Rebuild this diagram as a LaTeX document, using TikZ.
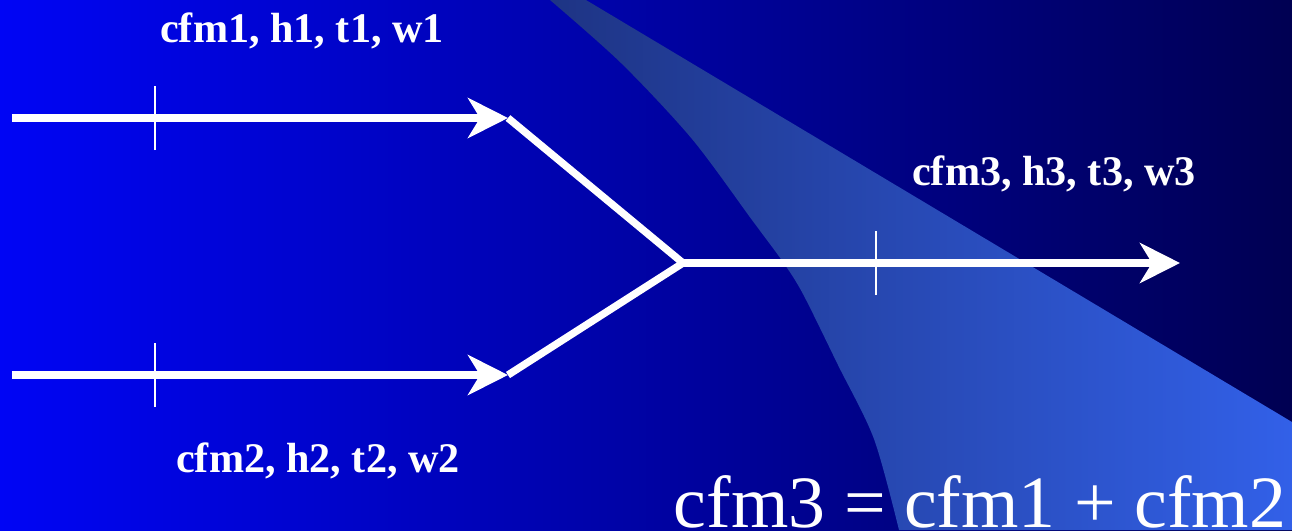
\documentclass[tikz,border=0pt]{standalone}
\usepackage{fontspec}
\setmainfont{Liberation Serif}
\usetikzlibrary{arrows.meta}
\definecolor{bgleft}{RGB}{0,5,245}
\definecolor{bgmid}{RGB}{0,0,178}
\definecolor{bgright}{RGB}{0,0,82}
\definecolor{keilleft}{RGB}{30,52,132}
\definecolor{keilright}{RGB}{50,96,232}

\tikzset{
    strom/.style={white, line width=2.1pt},
    pfeil/.style={strom, -{Stealth[length=4mm, width=4mm, inset=1.2mm]}},
    strich/.style={white, line width=0.8pt},
    zustand/.style={white, font=\fontsize{12}{14}\selectfont\bfseries, anchor=base}
}

\begin{document}
\begin{tikzpicture}
    % --- HINTERGRUND ---
    \useasboundingbox (0,0) rectangle (12.92,5.3);
    \shade[left color=bgleft, middle color=bgmid, right color=bgright] (0,0) rectangle (12.92,5.3);
    % heller Keil (hartcodierte Koordinaten)
    \shade[left color=keilleft, right color=keilright]
        plot[smooth] coordinates {(5.50,5.30) (6.21,4.67) (6.92,3.91) (7.52,3.10) (7.83,2.68) (8.03,2.36) (8.38,1.65) (8.74,0.91) (8.99,0)}
        -- (12.92,0) -- (12.92,1.08) -- (5.86,5.30) -- cycle;

    % --- PUNKTE ---
    \coordinate (e1) at (0.12,4.12);
    \coordinate (s1) at (5.08,4.12);
    \coordinate (e2) at (0.12,1.55);
    \coordinate (s2) at (5.08,1.55);
    \coordinate (misch) at (6.83,2.67);
    \coordinate (aus) at (11.80,2.67);

    % --- STROEME ---
    \draw[pfeil] (e1) -- (s1);
    \draw[pfeil] (e2) -- (s2);
    \draw[strom, line join=miter] (s1) -- (misch) -- (s2);
    \draw[pfeil] (misch) -- (aus);

    % Messstellen
    \coordinate (m1) at (1.55,4.12);
    \coordinate (m2) at (1.55,1.55);
    \coordinate (m3) at (8.76,2.67);
    \foreach \m in {m1, m2, m3}
        \draw[strich] ([yshift=-0.32cm]\m) -- ([yshift=0.32cm]\m);

    % --- BESCHRIFTUNG ---
    \node[zustand] (z1) at (3.02,4.88) {cfm1, h1, t1, w1};
    \node[zustand] (z2) at (3.18,0.58) {cfm2, h2, t2, w2};
    \node[zustand] (z3) at (10.54,3.45) {cfm3, h3, t3, w3};
    \node[white, anchor=base, font=\fontsize{21}{24}\selectfont] (bilanz) at (9.80,0.03) {cfm3 = cfm1 + cfm2};
\end{tikzpicture}
\end{document}
